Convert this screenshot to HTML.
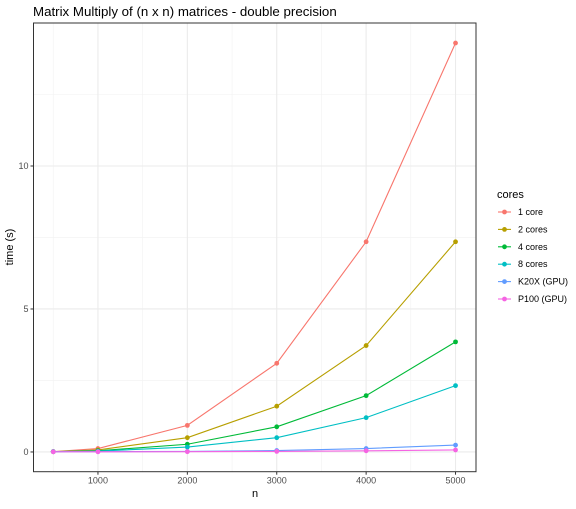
<!DOCTYPE html>
<html><head><meta charset="utf-8"><style>
body{margin:0;background:#fff;font-family:"Liberation Sans",Arial,sans-serif}
</style></head><body>
<svg id="c" width="576" height="504" xmlns="http://www.w3.org/2000/svg" style="font-family:'Liberation Sans',Arial,sans-serif">
<text x="33" y="16" font-size="13.3" fill="#000">Matrix Multiply of (n x n) matrices - double precision</text>
<g id="grid"></g><g id="marks"></g><g id="axes"></g><g id="legend"></g>
<text x="255" y="497" font-size="11" text-anchor="middle">n</text>
<text x="13" y="247" font-size="11" text-anchor="middle" transform="rotate(-90 13 247)">time (s)</text>
</svg>
<script>
const categories=[500,1000,2000,3000,4000,5000];
const seriesNames=["1 core","2 cores","4 cores","8 cores","K20X (GPU)","P100 (GPU)"];
const s1=[0.01,0.12,0.93,3.1,7.35,14.3];
const s2=[0.01,0.07,0.5,1.6,3.72,7.35];
const s4=[0.01,0.04,0.27,0.88,1.97,3.85];
const s8=[0.01,0.03,0.17,0.5,1.2,2.32];
const sK=[0.01,0.01,0.02,0.05,0.12,0.24];
const sP=[0.005,0.005,0.01,0.02,0.04,0.07];
const xTicks=[1000,2000,3000,4000,5000];
const yTicks=[0,5,10];
const colors=["#F8766D","#B79F00","#00BA38","#00BFC4","#619CFF","#F564E3"];
const L=33.5,R=476,T=23,B=471.7;
const xmin=279,xmax=5229,ymin=-0.69,ymax=15.0;
const X=v=>L+(v-xmin)/(xmax-xmin)*(R-L);
const Y=v=>B-(v-ymin)/(ymax-ymin)*(B-T);
const NS="http://www.w3.org/2000/svg";
function mk(t,a,p){const e=document.createElementNS(NS,t);for(const k in a)e.setAttribute(k,a[k]);p.appendChild(e);return e;}
const grid=document.getElementById('grid'),marks=document.getElementById('marks'),axes=document.getElementById('axes'),leg=document.getElementById('legend');
for(let v=500;v<=5000;v+=1000){const e=mk('line',{x1:X(v),x2:X(v),y1:T,y2:B,stroke:'#f2f2f2','stroke-width':0.6},grid);}
for(let v=2.5;v<=12.5;v+=5){const e=mk('line',{x1:L,x2:R,y1:Y(v),y2:Y(v),stroke:'#f2f2f2','stroke-width':0.6},grid);}
xTicks.forEach(v=>{const e=mk('line',{x1:X(v),x2:X(v),y1:T,y2:B,stroke:'#ebebeb','stroke-width':1.1},grid);
const t=mk('text',{x:X(v),y:B+12,'font-size':9,fill:'#4d4d4d','text-anchor':'middle'},axes);t.textContent=v;
mk('line',{x1:X(v),x2:X(v),y1:B,y2:B+3,stroke:'#333','stroke-width':1},axes);});
yTicks.forEach(v=>{const e=mk('line',{x1:L,x2:R,y1:Y(v),y2:Y(v),stroke:'#ebebeb','stroke-width':1.1},grid);
const t=mk('text',{x:L-5,y:Y(v)+3,'font-size':9,fill:'#4d4d4d','text-anchor':'end'},axes);t.textContent=v;
mk('line',{x1:L-3,x2:L,y1:Y(v),y2:Y(v),stroke:'#333','stroke-width':1},axes);});
const fr=mk('rect',{x:L,y:T,width:R-L,height:B-T,fill:'none',stroke:'#333','stroke-width':1},axes);
[s1,s2,s4,s8,sK,sP].forEach((s,i)=>{
const p=mk('polyline',{points:s.map((v,j)=>X(categories[j])+','+Y(v)).join(' '),fill:'none',stroke:colors[i],'stroke-width':1.1},marks);

s.forEach((v,j)=>{const c=mk('circle',{cx:X(categories[j]),cy:Y(v),r:2.4,fill:colors[i]},marks);});
const y=212+i*17.4;
mk('line',{x1:498,x2:511,y1:y,y2:y,stroke:colors[i],'stroke-width':1.1},leg);
mk('circle',{cx:504.5,cy:y,r:2.4,fill:colors[i]},leg);
const t=mk('text',{x:518,y:y+3,'font-size':9,fill:'#000'},leg);t.textContent=seriesNames[i];
});
const lt=mk('text',{x:497,y:198,'font-size':11,fill:'#000'},leg);lt.textContent='cores';
</script>
</body></html>
